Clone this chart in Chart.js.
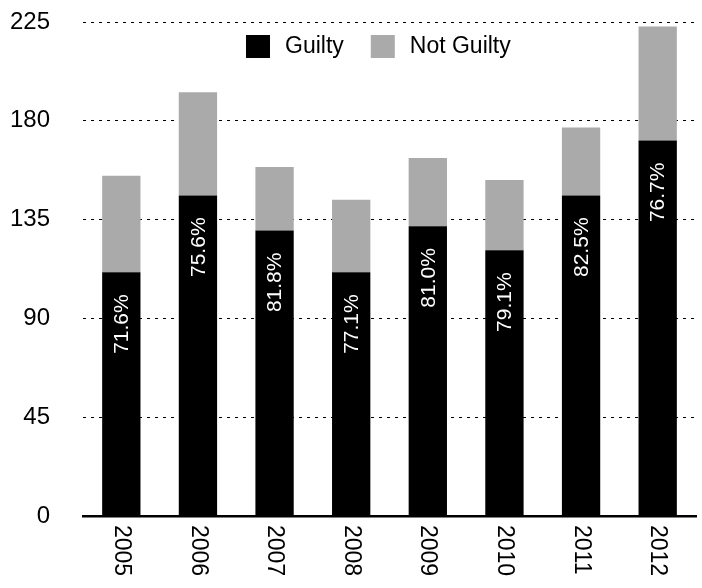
<!DOCTYPE html>
<html>
<head>
<meta charset="utf-8">
<script src="https://cdn.jsdelivr.net/npm/chart.js@4"></script>
<style>
    html, body { margin: 0; padding: 0; background: #fff; }
    #wrap { width: 702px; height: 588px; }
</style>
</head>
<body>
<div id="wrap"><canvas id="verdictChart" width="702" height="588"></canvas></div>
<script>
var years = ['2005', '2006', '2007', '2008', '2009', '2010', '2011', '2012'];
var guilty = [111, 146, 130, 111, 132, 121, 146, 171];
var notGuilty = [44, 47, 29, 33, 31, 32, 31, 52];
var percentLabels = ['71.6%', '75.6%', '81.8%', '77.1%', '81.0%', '79.1%', '82.5%', '76.7%'];
var yTicks = [0, 45, 90, 135, 180, 225];

var FONT = '"Liberation Sans", Arial, Helvetica, sans-serif';

// rotated year labels, % labels inside black bars, and legend inside the plot
var labelPlugin = {
    id: 'labelPlugin',
    afterDatasetsDraw: function (chart) {
        var ctx = chart.ctx;
        var meta = chart.getDatasetMeta(0);
        ctx.save();
        ctx.fillStyle = '#fff';
        ctx.font = '21px ' + FONT;
        ctx.textAlign = 'right';
        ctx.textBaseline = 'middle';
        meta.data.forEach(function (bar, i) {
            ctx.save();
            ctx.translate(bar.x, bar.y + 22);
            ctx.rotate(-Math.PI / 2);
            ctx.fillText(percentLabels[i], 0, 1);
            ctx.restore();
        });
        ctx.restore();
    },
    afterDraw: function (chart) {
        var ctx = chart.ctx;
        var xScale = chart.scales.x;
        var area = chart.chartArea;
        ctx.save();
        ctx.fillStyle = '#000';
        ctx.font = '23px ' + FONT;
        ctx.textAlign = 'left';
        ctx.textBaseline = 'middle';
        years.forEach(function (y, i) {
            ctx.save();
            ctx.translate(xScale.getPixelForValue(i), area.bottom + 9);
            ctx.rotate(Math.PI / 2);
            ctx.fillText(y, 0, 0);
            ctx.restore();
        });

        // legend
        var x = area.left + 163;
        var cy = area.top + 25;
        chart.data.datasets.forEach(function (ds) {
            ctx.fillStyle = ds.backgroundColor;
            ctx.fillRect(x, cy - 12, 24, 23);
            x += 39;
            ctx.fillStyle = '#000';
            ctx.fillText(ds.label, x, cy);
            x += ctx.measureText(ds.label).width + 27;
        });
        ctx.restore();
    }
};

var data = {
    labels: years,
    datasets: [{
        label: 'Guilty',
        data: guilty,
        backgroundColor: '#000',
        barPercentage: 0.5,
        categoryPercentage: 1
    }, {
        label: 'Not Guilty',
        data: notGuilty,
        backgroundColor: '#aaaaaa',
        barPercentage: 0.5,
        categoryPercentage: 1
    }]
};

var options = {
    responsive: false,
    animation: false,
    layout: {
        padding: { left: 9, right: 6, top: 22, bottom: 70 }
    },
    plugins: {
        legend: { display: false },
        tooltip: { enabled: false }
    },
    scales: {
        x: {
            stacked: true,
            grid: { display: false },
            ticks: { display: false },
            border: { display: true, color: '#000', width: 2.5 },
            afterFit: function (scale) {
                scale.height = 2;
                scale.paddingLeft = 0;
                scale.paddingRight = 0;
            }
        },
        y: {
            stacked: true,
            min: 0,
            max: 225,
            afterBuildTicks: function (scale) {
                scale.ticks = yTicks.map(function (v) { return { value: v }; });
            },
            afterFit: function (scale) {
                scale.width = 74;
                scale.paddingTop = 0;
                scale.paddingBottom = 0;
            },
            grid: {
                color: '#000',
                lineWidth: 1,
                drawTicks: false
            },
            border: { display: false, dash: [3, 5] },
            ticks: {
                color: '#000',
                padding: 33,
                font: { family: FONT, size: 24 }
            }
        }
    }
};

var ctx = document.getElementById('verdictChart');
if (ctx) {
    var verdictChart = new Chart(ctx, {
        type: 'bar',
        data: data,
        options: options,
        plugins: [labelPlugin]
    });
} else {
    console.error("Canvas element not found");
}
</script>
</body>
</html>
